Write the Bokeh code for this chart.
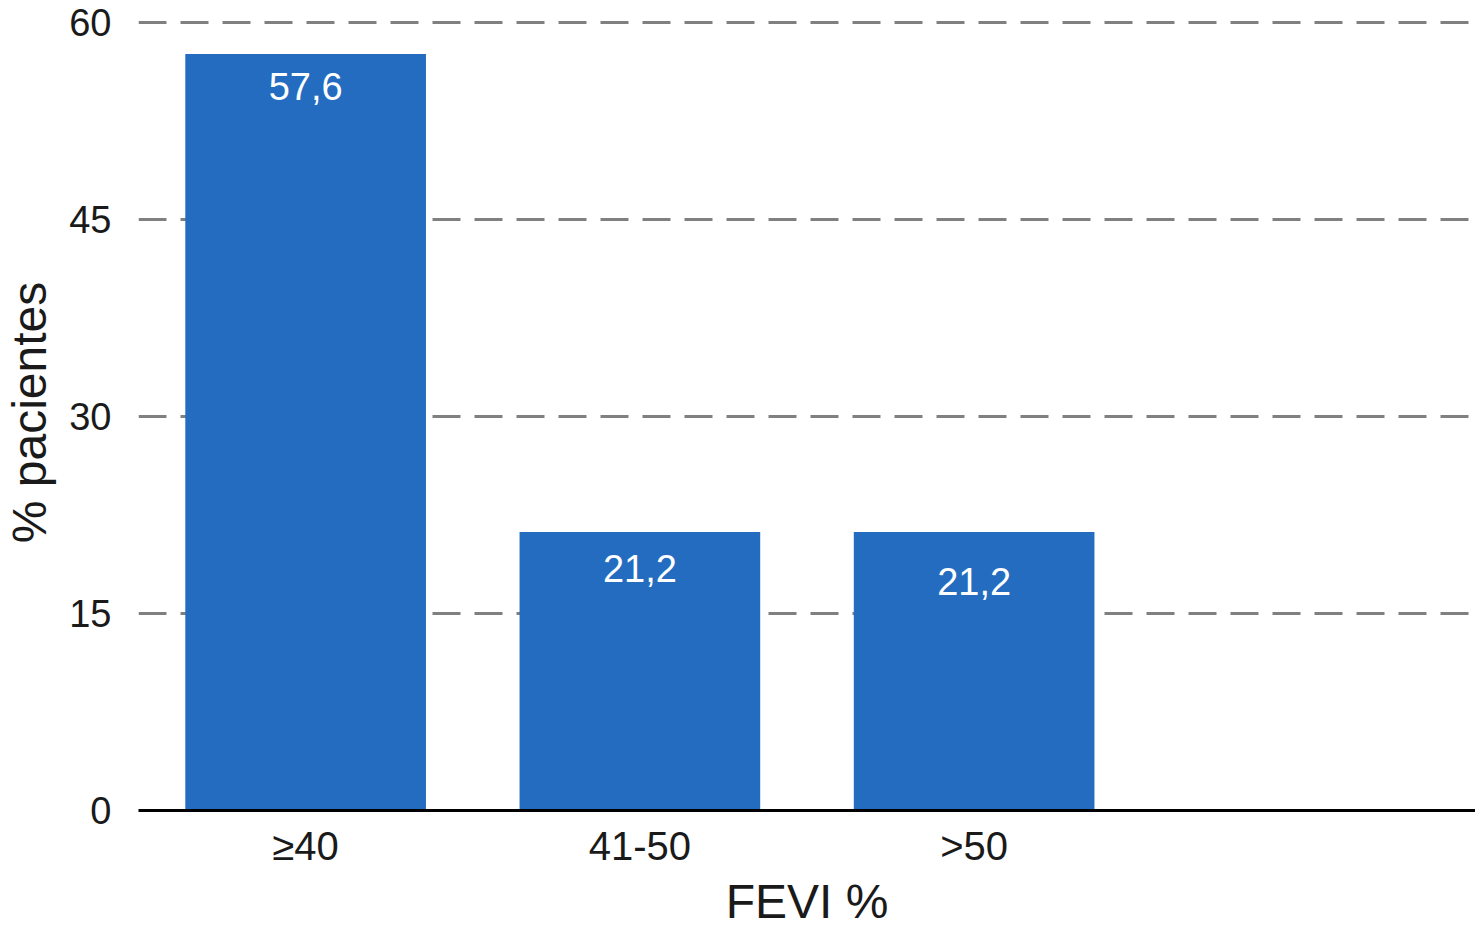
from bokeh.plotting import figure
from bokeh.models import ColumnDataSource, FactorRange, Range1d, FixedTicker
from bokeh.core.properties import value
from bokeh.embed import file_html
from bokeh.resources import INLINE

categories = ["≥40", "41-50", ">50", " "]
values = [57.6, 21.2, 21.2]
labels = ["57,6", "21,2", "21,2"]
label_offsets = [33, 36, 49]
y_ticks = [0, 15, 30, 45, 60]

FONT = "Liberation Sans"
BAR = "#236CBF"

src = ColumnDataSource(dict(x=categories[:3], top=values, lab=labels, off=label_offsets))

p = figure(width=1475, height=930, output_backend="svg", toolbar_location=None,
           x_range=FactorRange(factors=categories, range_padding=0),
           y_range=Range1d(0, 60.6))
p.min_border_left = 130
p.min_border_right = 0
p.min_border_top = 14
p.min_border_bottom = 100
p.outline_line_color = None
p.background_fill_color = "white"
p.border_fill_color = "white"

p.vbar(x="x", top="top", width=0.72, bottom=0, source=src, fill_color=BAR, line_color=None)
p.text(x="x", y="top", text="lab", y_offset="off", source=src, text_color="white",
       text_font=value(FONT), text_font_size="38px", text_align="center", text_baseline="middle")

p.xgrid.grid_line_color = None
p.ygrid.grid_line_color = "#808080"
p.ygrid.grid_line_width = 3
p.ygrid.grid_line_dash = "28 14"
p.ygrid.ticker = FixedTicker(ticks=[15, 30, 45, 60])

p.yaxis.ticker = FixedTicker(ticks=y_ticks)
p.yaxis.axis_line_color = None
p.yaxis.major_tick_line_color = None
p.yaxis.minor_tick_line_color = None
p.yaxis.major_label_text_font = FONT
p.yaxis.major_label_text_font_size = "38px"
p.yaxis.major_label_text_color = "#1a1a1a"
p.yaxis.major_label_standoff = 21
p.yaxis.axis_label = "% pacientes"
p.yaxis.axis_label_text_font = FONT
p.yaxis.axis_label_text_font_size = "48px"
p.yaxis.axis_label_text_font_style = "normal"
p.yaxis.axis_label_text_color = "#1a1a1a"
p.yaxis.axis_label_standoff = 10

p.xaxis.axis_line_color = "black"
p.xaxis.axis_line_width = 3
p.xaxis.major_tick_line_color = None
p.xaxis.minor_tick_line_color = None
p.xaxis.major_label_text_font = FONT
p.xaxis.major_label_text_font_size = "40px"
p.xaxis.major_label_text_color = "#1a1a1a"
p.xaxis.major_label_standoff = 7
p.xaxis.axis_label = "FEVI %"
p.xaxis.axis_label_text_font = FONT
p.xaxis.axis_label_text_font_size = "48px"
p.xaxis.axis_label_text_font_style = "normal"
p.xaxis.axis_label_text_color = "#1a1a1a"
p.xaxis.axis_label_standoff = 4

open("out.html", "w").write(file_html(p, INLINE))
